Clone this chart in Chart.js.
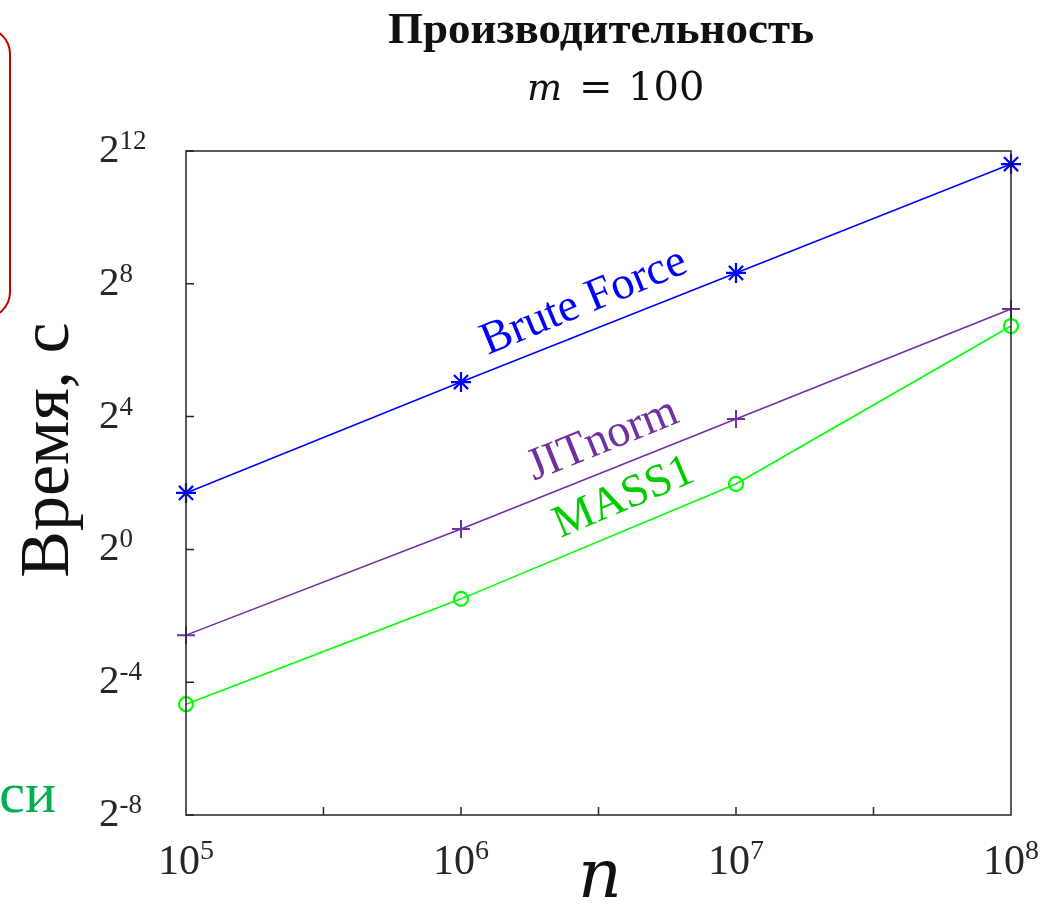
<!DOCTYPE html>
<html><head><meta charset="utf-8">
<script src="https://cdn.jsdelivr.net/npm/chart.js@4"></script>
<style>html,body{margin:0;padding:0;background:#fff;} #wrap{width:1042px;height:922px;position:relative;}</style>
</head><body><div id="wrap"><canvas id="c"></canvas></div>
<script>
// ---- data ----
const nValues = [1e5, 1e6, 1e7, 1e8];
const bruteForce = [3.25, 32.9, 321, 3120];
const jitNorm = [0.167, 1.53, 15.2, 151];
const mass1 = [0.0395, 0.356, 3.92, 106];
const seriesNames = ['Brute Force', 'JITnorm', 'MASS1'];
const yTickExps = [-8, -4, 0, 4, 8, 12];      // labels 2^e
const xTickExps = [5, 6, 7, 8];               // labels 10^e
const xTickMarkExps = [5.5, 6, 6.5, 7, 7.5];  // tick marks on x axis
const titleText = 'Производительность';
const subtitleVar = 'm';
const subtitleRest = ['=', '100'];
const yLabel = 'Время, с';
const xLabel = 'n';
const sideText = 'си';

const SERIF = '"Liberation Serif", "Times New Roman", serif';
const AX = '#262626';

function drawPow(ctx, base, exp, x, y, bs, ss, rise, align) {
  ctx.font = bs + 'px ' + SERIF; const wb = ctx.measureText(base).width;
  ctx.font = ss + 'px ' + SERIF; const we = ctx.measureText(exp).width;
  const x0 = align === 'center' ? x - (wb + we) / 2 : x;
  ctx.textAlign = 'left'; ctx.textBaseline = 'alphabetic';
  ctx.font = bs + 'px ' + SERIF; ctx.fillText(base, x0, y);
  ctx.font = ss + 'px ' + SERIF; ctx.fillText(exp, x0 + wb, y - rise);
}

const decor = {
  id: 'decor',
  afterDraw(chart) {
    const ctx = chart.ctx, a = chart.chartArea;
    const xs = chart.scales.x, ys = chart.scales.y;
    ctx.save();
    // frame
    ctx.strokeStyle = AX; ctx.lineWidth = 1.5;
    ctx.strokeRect(a.left, a.top, a.right - a.left, a.bottom - a.top);
    // ticks
    ctx.beginPath();
    yTickExps.forEach(e => { const y = ys.getPixelForValue(Math.pow(2, e)); ctx.moveTo(a.left, y); ctx.lineTo(a.left + 8, y); });
    xTickMarkExps.forEach(e => { const x = xs.getPixelForValue(Math.pow(10, e)); ctx.moveTo(x, a.bottom); ctx.lineTo(x, a.bottom - 8); });
    ctx.stroke();
    // tick labels
    ctx.fillStyle = AX;
    yTickExps.forEach(e => { const y = ys.getPixelForValue(Math.pow(2, e)); drawPow(ctx, '2', String(e), 99, y + 11, 41, 27, 13, 'left'); });
    xTickExps.forEach(e => { const x = xs.getPixelForValue(Math.pow(10, e)); drawPow(ctx, '10', String(e), x, 874, 42, 28, 15, 'center'); });
    // title
    ctx.fillStyle = '#111';
    ctx.textAlign = 'center'; ctx.textBaseline = 'alphabetic';
    ctx.font = 'bold 45px ' + SERIF;
    ctx.fillText(titleText, 601, 43);
    ctx.textAlign = 'left';
    ctx.font = 'italic 37px "DejaVu Serif", serif';
    ctx.fillText(subtitleVar, 527, 100);
    ctx.font = '40px "DejaVu Serif", serif';
    ctx.fillText(subtitleRest[0], 579, 100);
    ctx.fillText(subtitleRest[1], 628, 100);
    // axis labels
    ctx.save();
    ctx.translate(68, 450); ctx.rotate(-Math.PI / 2);
    ctx.textAlign = 'center'; ctx.font = '70px ' + SERIF; ctx.fillStyle = '#111';
    ctx.fillText(yLabel, 0, 0);
    ctx.restore();
    ctx.textAlign = 'center'; ctx.font = 'italic 68px "DejaVu Serif", serif'; ctx.fillStyle = '#111';
    ctx.fillText(xLabel, 600, 897);
    // series labels
    const labs = [
      {t: seriesNames[0], x: 584, y: 302, c: '#0000ff', ang: -22.5},
      {t: seriesNames[1], x: 603, y: 440, c: '#7030a0', ang: -22},
      {t: seriesNames[2], x: 624, y: 498, c: '#00cc00', ang: -23}
    ];
    labs.forEach(l => {
      ctx.save(); ctx.translate(l.x, l.y); ctx.rotate(l.ang * Math.PI / 180);
      ctx.textAlign = 'center'; ctx.textBaseline = 'middle'; ctx.font = '46px ' + SERIF; ctx.fillStyle = l.c;
      ctx.fillText(l.t, 0, 0); ctx.restore();
    });
    // red rounded box on left (cut)
    ctx.strokeStyle = '#c00000'; ctx.lineWidth = 2;
    ctx.beginPath(); ctx.roundRect(-60, 28, 70, 290, 26); ctx.stroke();
    // green partial text
    ctx.fillStyle = '#00b050'; ctx.textAlign = 'right'; ctx.font = '58px ' + SERIF;
    ctx.fillText(sideText, 56, 812);
    ctx.restore();
  }
};

const pts = arr => nValues.map((n, i) => ({x: n, y: arr[i]}));
new Chart(document.getElementById('c'), {
  type: 'line',
  data: { datasets: [
    {label: seriesNames[0], data: pts(bruteForce), borderColor: '#0000ff', backgroundColor: '#0000ff', borderWidth: 1.6,
     pointStyle: 'star', pointRadius: 10, pointBorderWidth: 2.2, pointBorderColor: '#0000ff', clip: false},
    {label: seriesNames[1], data: pts(jitNorm), borderColor: '#7030a0', backgroundColor: '#7030a0', borderWidth: 1.6,
     pointStyle: 'cross', pointRadius: 9, pointBorderWidth: 2, pointBorderColor: '#7030a0', clip: false},
    {label: seriesNames[2], data: pts(mass1), borderColor: '#00ff00', backgroundColor: 'rgba(0,0,0,0)', borderWidth: 1.6,
     pointStyle: 'circle', pointRadius: 7, pointBorderWidth: 2.2, pointBorderColor: '#00ff00', pointBackgroundColor: 'rgba(0,0,0,0)', clip: false}
  ]},
  options: {
    responsive: true, maintainAspectRatio: false, animation: false, devicePixelRatio: 1,
    layout: {padding: {left: 0, right: 31, top: 151, bottom: 0}},
    plugins: {legend: {display: false}, tooltip: {enabled: false}, title: {display: false}},
    scales: {
      x: {type: 'logarithmic', min: 1e5, max: 1e8, ticks: {display: false}, grid: {display: false}, border: {display: false},
          afterFit: s => { s.height = 107; }},
      y: {type: 'logarithmic', min: Math.pow(2, -8), max: Math.pow(2, 12), ticks: {display: false}, grid: {display: false}, border: {display: false},
          afterFit: s => { s.width = 186; }}
    }
  },
  plugins: [decor]
});
</script></body></html>
